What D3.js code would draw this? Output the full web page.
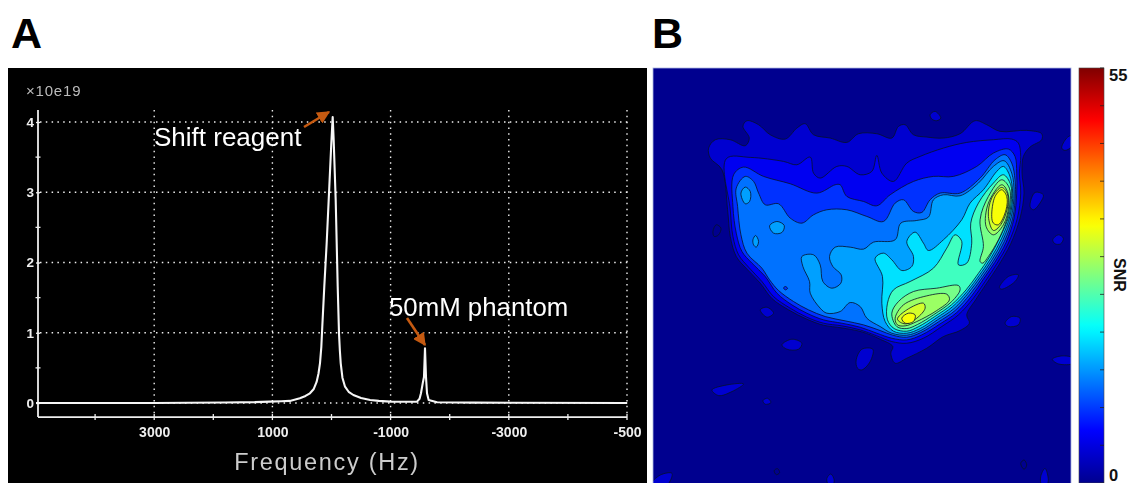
<!DOCTYPE html>
<html>
<head>
<meta charset="utf-8">
<script src="https://cdn.jsdelivr.net/npm/d3@7"></script>
<style>
  html, body { margin: 0; padding: 0; background: #fff; }
  svg { display: block; }
  text { font-family: "Liberation Sans", Arial, sans-serif; }
</style>
</head>
<body>
<div id="chart"></div>
<script>
// Panel A, spectrum
var spectrumFreq = [5000, 3000, 2400, 1800, 1300, 1044, 850, 705, 535, 440, 365, 300, 252, 220, 195, 172, 156, 122, 82, 37, 3, -20, -37, -71, -105, -127, -142, -156, -185, -229, -290, -370, -500, -654, -800, -993, -1200, -1447, -1490, -1514, -1548, -1565, -1582, -1599, -1616, -1644, -1786, -2400, -5000];
var spectrumValue = [0, 0, 0.004, 0.008, 0.012, 0.02, 0.025, 0.03, 0.067, 0.10, 0.138, 0.20, 0.30, 0.42, 0.565, 0.80, 1.086, 1.656, 2.27, 3.08, 3.70, 4.07, 3.74, 2.89, 1.656, 0.99, 0.74, 0.565, 0.36, 0.232, 0.16, 0.114, 0.07, 0.043, 0.03, 0.02, 0.018, 0.02, 0.06, 0.138, 0.30, 0.37, 0.78, 0.37, 0.138, 0.043, 0.01, 0.005, 0];
var freqTicks = [3000, 1000, -1000, -3000, -5000];
var freqTickLabels = ["3000", "1000", "-1000", "-3000", "-500"];
var freqMinorTicks = [4000, 3000, 2000, 1000, 0, -1000, -2000, -3000, -4000, -5000];
var ampTicks = [0, 1, 2, 3, 4];
var ampMinorTicks = [0.5, 1.5, 2.5, 3.5];

// Panel B, SNR contours, in field of view units
var bgLevel = 0;
var levelsSNR = [4, 6, 9.5, 13, 15.5, 19, 24, 27, 29, 32, 34];
var ringsL1 = [
  [[175,265],[195,240],[240,240],[285,258],[297,235],[278,200],[290,183],[325,195],[360,225],[405,238],[440,205],[465,192],[490,225],[540,235],[590,248],[625,222],[680,222],[725,235],[745,200],[765,195],[790,225],[830,232],[880,235],[930,222],[975,183],[1010,195],[1050,215],[1130,212],[1175,222],[1175,240],[1140,262],[1120,290],[1116,340],[1122,400],[1110,475],[1082,552],[1046,616],[1010,670],[978,718],[950,765],[958,790],[930,812],[880,830],[830,865],[770,895],[735,910],[722,880],[728,860],[690,838],[635,816],[575,804],[520,796],[470,778],[415,750],[365,716],[330,670],[290,628],[258,590],[240,530],[232,450],[215,330],[180,295]],
  [[840,165],[855,155],[872,175],[860,183],[845,178]],
  [[1235,265],[1250,235],[1263,228],[1263,262],[1245,272]],
  [[1140,440],[1155,398],[1180,405],[1170,430],[1150,450]],
  [[1048,683],[1075,650],[1105,645],[1095,665],[1055,688]],
  [[1065,790],[1085,770],[1110,775],[1105,795],[1075,800]],
  [[1208,540],[1225,525],[1240,535],[1232,552],[1215,552]],
  [[1207,898],[1235,888],[1270,895],[1270,910],[1225,912]],
  [[395,855],[425,838],[455,850],[445,868],[410,868]],
  [[618,900],[635,868],[668,868],[660,905],[635,930],[622,925]],
  [[330,750],[350,742],[370,760],[350,772]],
  [[185,990],[230,975],[280,972],[245,995],[205,1007]],
  [[338,1022],[352,1015],[362,1028],[345,1033]],
  [[0,1275],[30,1245],[65,1240],[50,1275]],
  [[1172,1250],[1185,1225],[1195,1260],[1190,1275],[1175,1275]],
  [[530,1255],[542,1242],[552,1260],[548,1275],[535,1275]]
];
var ringsL2 = [
  [[228,297],[300,293],[400,305],[440,315],[480,292],[490,340],[510,355],[560,320],[590,320],[630,345],[665,335],[680,287],[695,340],[730,365],[770,310],[810,290],[880,265],[950,248],[1030,240],[1085,238],[1105,250],[1112,290],[1108,340],[1112,400],[1102,475],[1075,550],[1040,612],[1005,665],[970,715],[925,765],[875,800],[820,835],[770,850],[725,845],[680,828],[630,810],[575,798],[520,790],[470,772],[420,745],[370,710],[335,665],[295,622],[265,585],[248,530],[240,450]]
];
var ringsL3 = [
  [[250,345],[280,322],[340,350],[420,372],[500,400],[555,375],[570,375],[590,410],[640,425],[680,438],[720,405],[790,365],[850,350],[910,350],[980,320],[1030,280],[1075,268],[1095,290],[1100,340],[1100,400],[1092,475],[1068,548],[1034,608],[1000,658],[965,708],[920,758],[870,792],[815,825],[770,840],[725,835],[680,820],[630,802],[575,790],[520,780],[470,760],[425,735],[380,700],[345,650],[305,610],[275,575],[258,520],[248,440]]
];
var ringsL4 = [
  [[258,385],[285,350],[310,365],[325,400],[345,435],[385,432],[420,475],[455,490],[490,465],[530,450],[590,450],[650,470],[700,485],[735,430],[760,420],[790,455],[815,458],[840,420],[870,400],[930,400],[990,355],[1035,300],[1065,285],[1085,310],[1095,360],[1096,400],[1088,475],[1063,545],[1030,604],[996,654],[960,703],[915,752],[865,786],[812,818],[770,832],[728,826],[690,812],[640,795],[585,783],[525,770],[475,750],[430,725],[385,692],[358,660],[335,625],[290,580],[272,525],[262,440]]
];
var ringsTiny = [[[400,684],[406,680],[412,686],[405,690]]];
var ringsL5 = [
  [[455,590],[458,620],[478,665],[480,700],[510,745],[530,760],[570,755],[600,728],[630,740],[650,775],[690,800],[725,820],[770,826],[812,812],[862,780],[912,746],[956,698],[992,650],[1026,600],[1059,540],[1084,470],[1092,400],[1085,340],[1062,303],[1030,320],[985,370],[930,408],[880,405],[850,420],[835,472],[800,482],[752,490],[735,540],[670,547],[640,568],[600,562],[555,562],[538,590],[548,620],[573,645],[572,670],[545,685],[518,665],[510,615],[490,585]],
  [[272,400],[285,382],[300,395],[298,425],[285,432]],
  [[358,498],[380,485],[402,497],[395,518],[370,520]],
  [[308,540],[316,527],[325,545],[318,562],[310,555]]
];
var ringsL6 = [
  [[675,595],[700,580],[725,600],[755,632],[785,620],[790,590],[770,545],[795,517],[820,550],[835,572],[880,540],[935,480],[960,430],[1000,390],[1040,335],[1060,320],[1078,345],[1088,400],[1080,468],[1055,535],[1022,596],[988,646],[952,694],[908,740],[858,775],[810,806],[770,820],[730,814],[705,785],[695,730],[697,650]]
];
var ringsL7 = [
  [[730,690],[780,665],[850,625],[890,565],[915,525],[935,545],[925,615],[950,610],[965,550],[962,490],[985,430],[1030,370],[1060,345],[1082,375],[1084,420],[1076,470],[1050,532],[1018,592],[984,642],[948,690],[904,735],[854,770],[806,800],[770,814],[732,806],[712,780],[712,730]]
];
var ringsL8 = [
  [[990,605],[1000,560],[990,480],[1015,410],[1055,360],[1078,385],[1080,430],[1070,480],[1045,540],[1015,590],[998,610]],
  [[725,760],[745,725],[790,695],[860,685],[925,677],[930,690],[905,725],[850,765],[802,794],[770,806],[740,800]]
];
var ringsL9 = [
  [[1008,500],[1015,430],[1055,375],[1072,395],[1076,440],[1060,495],[1030,525]],
  [[735,775],[760,735],[830,708],[890,703],[898,720],[860,752],[800,785],[765,798],[742,795]]
];
var ringsL10 = [
  [[1015,470],[1025,415],[1055,383],[1072,402],[1072,445],[1052,495],[1030,512]],
  [[742,778],[770,750],[820,730],[825,745],[800,775],[765,792]]
];
var ringsL11 = [
  [[1025,470],[1035,410],[1055,390],[1070,410],[1068,450],[1045,495],[1030,490]],
  [[755,775],[775,760],[795,765],[790,785],[765,790]]
];
var faintRings = [
  [[188,515],[198,495],[212,505],[205,525],[192,530]],
  [[1112,1210],[1122,1200],[1130,1215],[1122,1228]],
  [[372,1232],[382,1226],[388,1238],[378,1244]]
];
var snrTicks = d3.range(0, 60, 5);
var snrLabels = [0, 55];

var svg = d3.select("#chart").append("svg").attr("width", 1131).attr("height", 483);

svg.append("text").attr("x", 11).attr("y", 48).attr("font-size", 43).attr("font-weight", "bold").attr("fill", "#000").text("A");
svg.append("text").attr("x", 652).attr("y", 48).attr("font-size", 43).attr("font-weight", "bold").attr("fill", "#000").text("B");

// ---------- panel A
var a = svg.append("g").style("filter", "blur(0.4px)");
a.append("rect").attr("x", 8).attr("y", 68).attr("width", 639).attr("height", 415).attr("fill", "#000");

var xFreq = d3.scaleLinear().domain([5000, -5000]).range([36, 627]);
var yAmp = d3.scaleLinear().domain([0, 4]).range([403, 122]);
var yTop = yAmp(4.17), yBottom = yAmp(-0.2);

// dotted grid
a.append("g").selectAll("line").data(freqTicks).enter().append("line")
  .attr("x1", d => xFreq(d)).attr("x2", d => xFreq(d))
  .attr("y1", yTop).attr("y2", yBottom)
  .attr("stroke", "#eee").attr("stroke-width", 1.4).attr("stroke-dasharray", "1.5 4.3");
a.append("g").selectAll("line").data(ampTicks).enter().append("line")
  .attr("x1", 40).attr("x2", 630)
  .attr("y1", d => yAmp(d)).attr("y2", d => yAmp(d))
  .attr("stroke", "#eee").attr("stroke-width", 1.4).attr("stroke-dasharray", "1.5 4.3");

// axes
var xAxisG = a.append("g").attr("transform", "translate(0," + yBottom + ")")
  .call(d3.axisBottom(xFreq).tickValues(freqTicks).tickSize(6).tickFormat((d, i) => freqTickLabels[i]));
xAxisG.select(".domain").remove();
xAxisG.selectAll(".tick line").remove();
xAxisG.selectAll("text").attr("fill", "#eee").attr("y", 10).attr("font-size", 14).attr("font-weight", "bold")
  .style("font-family", "'Liberation Sans Narrow', 'Liberation Sans'");
a.append("line").attr("x1", 38).attr("x2", 627).attr("y1", yBottom).attr("y2", yBottom).attr("stroke", "#eee").attr("stroke-width", 1.8);
a.append("g").selectAll("line").data(freqMinorTicks).enter().append("line")
  .attr("x1", d => xFreq(d)).attr("x2", d => xFreq(d))
  .attr("y1", yBottom - 3).attr("y2", yBottom + 3)
  .attr("stroke", "#eee").attr("stroke-width", 1.3);

var yAxisG = a.append("g").attr("transform", "translate(38,0)")
  .call(d3.axisLeft(yAmp).tickValues(ampTicks).tickSize(3).tickFormat(d3.format("d")));
yAxisG.select(".domain").remove();
yAxisG.selectAll(".tick line").attr("stroke", "#eee").attr("x1", -2).attr("x2", 2).attr("stroke-width", 1.3);
yAxisG.selectAll("text").attr("fill", "#eee").attr("x", -4).attr("font-size", 13.5).attr("font-weight", "bold");
a.append("line").attr("x1", 38).attr("x2", 38).attr("y1", yTop).attr("y2", yBottom).attr("stroke", "#eee").attr("stroke-width", 1.8);
a.append("g").selectAll("line").data(ampMinorTicks).enter().append("line")
  .attr("x1", 35.5).attr("x2", 40.5)
  .attr("y1", d => yAmp(d)).attr("y2", d => yAmp(d))
  .attr("stroke", "#eee").attr("stroke-width", 1.3);

// spectrum
var spectrumLine = d3.line().x(d => xFreq(d[0])).y(d => yAmp(d[1]));
a.append("path").datum(d3.zip(spectrumFreq, spectrumValue))
  .attr("d", spectrumLine).attr("fill", "none")
  .attr("stroke", "#f6f6f6").attr("stroke-width", 2.1).attr("stroke-linejoin", "round");

a.append("text").attr("x", 26).attr("y", 96).attr("font-size", 15).attr("fill", "#bbb")
  .attr("letter-spacing", 0.8).text("×10e19");
a.append("text").attr("x", 327).attr("y", 470).attr("text-anchor", "middle").attr("font-size", 23.5)
  .attr("fill", "#ccc").attr("letter-spacing", 1.7).text("Frequency (Hz)");
a.append("text").attr("x", 154).attr("y", 146).attr("font-size", 26).attr("fill", "#fff").text("Shift reagent");
a.append("text").attr("x", 389).attr("y", 316).attr("font-size", 25.8).attr("fill", "#fff").text("50mM phantom");

// orange arrows
svg.append("defs").append("marker").attr("id", "arrowHead")
  .attr("viewBox", "0 0 10 10").attr("refX", 9).attr("refY", 5)
  .attr("markerWidth", 5).attr("markerHeight", 5).attr("markerUnits", "strokeWidth").attr("orient", "auto")
  .append("path").attr("d", "M0,0L10,5L0,10z").attr("fill", "#c55a11");
a.append("line").attr("x1", 304).attr("y1", 127).attr("x2", 329).attr("y2", 112)
  .attr("stroke", "#c55a11").attr("stroke-width", 2.6).attr("marker-end", "url(#arrowHead)");
a.append("line").attr("x1", 407).attr("y1", 318).attr("x2", 425).attr("y2", 345)
  .attr("stroke", "#c55a11").attr("stroke-width", 2.6).attr("marker-end", "url(#arrowHead)");

// ---------- panel B
var jet = d3.scaleLinear()
  .domain([0, 0.125, 0.375, 0.625, 0.875, 1])
  .range(["#00008f", "#0000ff", "#00ffff", "#ffff00", "#ff0000", "#800000"])
  .clamp(true);
var snrColor = v => jet(v / 55);

var xFov = d3.scaleLinear().domain([8, 1263]).range([653, 1071]);
var yFov = d3.scaleLinear().domain([25, 1269]).range([68, 483]);

svg.append("clipPath").attr("id", "fovClip").append("rect")
  .attr("x", 653).attr("y", 68).attr("width", 418).attr("height", 415);

var b = svg.append("g").attr("clip-path", "url(#fovClip)");
var bInner = b.append("g").style("filter", "blur(0.4px)");
bInner.append("rect").attr("x", 653).attr("y", 68).attr("width", 418).attr("height", 415).attr("fill", snrColor(bgLevel));

var ringPath = d3.line().x(d => xFov(d[0])).y(d => yFov(d[1])).curve(d3.curveCatmullRomClosed.alpha(0.5));

var layers = [
  [bgLevel, faintRings],
  [levelsSNR[0], ringsL1],
  [levelsSNR[1], ringsL2],
  [levelsSNR[2], ringsL3],
  [levelsSNR[3], ringsL4],
  [levelsSNR[2], ringsTiny],
  [levelsSNR[4], ringsL5],
  [levelsSNR[5], ringsL6],
  [levelsSNR[6], ringsL7],
  [levelsSNR[7], ringsL8],
  [levelsSNR[8], ringsL9],
  [levelsSNR[9], ringsL10],
  [levelsSNR[10], ringsL11]
];
layers.forEach(function(layer) {
  bInner.append("g").selectAll("path").data(layer[1]).enter().append("path")
    .attr("d", ringPath)
    .attr("fill", snrColor(layer[0]))
    .attr("stroke", "#06122a").attr("stroke-width", 0.8);
});
svg.append("rect").attr("x", 653).attr("y", 68).attr("width", 418).attr("height", 416)
  .attr("fill", "none").attr("stroke", "#aab4e0").attr("stroke-width", 0.8);

// colour bar
var ySnr = d3.scaleLinear().domain([0, 55]).range([483, 68]);
var grad = svg.select("defs").append("linearGradient").attr("id", "jetGrad")
  .attr("x1", 0).attr("x2", 0).attr("y1", 1).attr("y2", 0);
grad.selectAll("stop").data(d3.range(0, 56)).enter().append("stop")
  .attr("offset", d => (d / 55 * 100) + "%")
  .attr("stop-color", d => snrColor(d));
svg.append("rect").attr("x", 1079).attr("y", 68).attr("width", 25).attr("height", 415).attr("fill", "url(#jetGrad)");
svg.append("rect").attr("x", 1079).attr("y", 68).attr("width", 25).attr("height", 415)
  .attr("fill", "none").attr("stroke", "#444").attr("stroke-width", 0.6);
svg.append("g").selectAll("line").data(snrTicks).enter().append("line")
  .attr("x1", 1100).attr("x2", 1104)
  .attr("y1", d => ySnr(d)).attr("y2", d => ySnr(d))
  .attr("stroke", "#222").attr("stroke-width", 0.8);
svg.append("g").selectAll("text").data(snrLabels).enter().append("text")
  .attr("x", 1109)
  .attr("y", d => d == 0 ? ySnr(d) - 2 : ySnr(d) + 13)
  .attr("font-size", 16.5).attr("font-weight", "bold").attr("fill", "#111")
  .text(d => d);
svg.append("text").attr("transform", "translate(1114,275) rotate(90)")
  .attr("text-anchor", "middle").attr("font-size", 16).attr("font-weight", "bold").attr("fill", "#111").text("SNR");
</script>
</body>
</html>
